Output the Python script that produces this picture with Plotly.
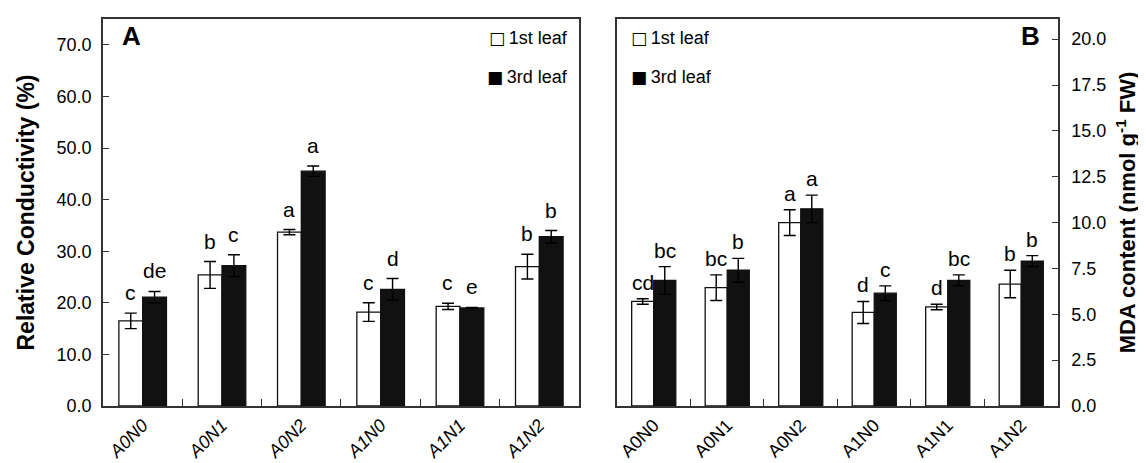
import plotly.graph_objects as go

categories = ["A0N0", "A0N1", "A0N2", "A1N0", "A1N1", "A1N2"]

# Panel A: Relative conductivity (%)
rc_1st = [16.5, 25.4, 33.7, 18.2, 19.3, 27.0]
rc_1st_err = [1.5, 2.6, 0.5, 1.8, 0.6, 2.4]
rc_3rd = [21.1, 27.2, 45.5, 22.6, 19.0, 32.8]
rc_3rd_err = [1.1, 2.1, 1.0, 2.1, 0.1, 1.2]
rc_1st_letters = ["c", "b", "a", "c", "c", "b"]
rc_3rd_letters = ["de", "c", "a", "d", "e", "b"]

# Panel B: MDA content (nmol g-1 FW)
mda_1st = [5.7, 6.45, 10.0, 5.1, 5.4, 6.65]
mda_1st_err = [0.15, 0.7, 0.7, 0.6, 0.15, 0.75]
mda_3rd = [6.85, 7.4, 10.75, 6.15, 6.85, 7.9]
mda_3rd_err = [0.75, 0.65, 0.75, 0.4, 0.3, 0.3]
mda_1st_letters = ["cd", "bc", "a", "d", "d", "b"]
mda_3rd_letters = ["bc", "b", "a", "c", "bc", "b"]

rc_ticks = [0, 10, 20, 30, 40, 50, 60, 70]
mda_ticks = [0, 2.5, 5, 7.5, 10, 12.5, 15, 17.5, 20]

FONT = "Liberation Sans, Arial, Helvetica, sans-serif"
NARROW = "Liberation Sans Narrow, Arial Narrow, Liberation Sans, Arial, sans-serif"
DARK = "#111111"
LINE = "#333333"

fig = go.Figure()

def add_pair(xa, ya, v1, e1, v3, e3):
    fig.add_trace(go.Bar(
        x=categories, y=v1, xaxis=xa, yaxis=ya, showlegend=False,
        marker=dict(color="white", line=dict(color=DARK, width=1.3)),
        error_y=dict(type="data", array=e1, color="black", thickness=1.4, width=6),
    ))
    fig.add_trace(go.Bar(
        x=categories, y=v3, xaxis=xa, yaxis=ya, showlegend=False,
        marker=dict(color=DARK, line=dict(color=DARK, width=1.3)),
        error_y=dict(type="data", array=e3, color="black", thickness=1.4, width=6),
    ))

add_pair("x", "y", rc_1st, rc_1st_err, rc_3rd, rc_3rd_err)
add_pair("x2", "y2", mda_1st, mda_1st_err, mda_3rd, mda_3rd_err)

annotations = []

def add_letters(xref, yref, vals, errs, letters, shift, yshift):
    for c, v, e, t in zip(categories, vals, errs, letters):
        annotations.append(dict(
            x=c, y=v + e, xref=xref, yref=yref, text=t, showarrow=False,
            xshift=shift, yshift=yshift, yanchor="bottom",
            font=dict(family=NARROW, size=21, color="black"),
        ))

add_letters("x", "y", rc_1st, rc_1st_err, rc_1st_letters, -12, 7)
add_letters("x", "y", rc_3rd, rc_3rd_err, rc_3rd_letters, 12, 7)
add_letters("x2", "y2", mda_1st, mda_1st_err, mda_1st_letters, -11, 3)
add_letters("x2", "y2", mda_3rd, mda_3rd_err, mda_3rd_letters, 11, 3)

# panel labels
annotations.append(dict(x=0.018, y=0.955, xref="paper", yref="paper", text="<b>A</b>",
                        showarrow=False, xanchor="left", yanchor="middle",
                        font=dict(family=FONT, size=26, color="black")))
annotations.append(dict(x=0.983, y=0.955, xref="paper", yref="paper", text="<b>B</b>",
                        showarrow=False, xanchor="right", yanchor="middle",
                        font=dict(family=FONT, size=26, color="black")))

# legends
leg_font = dict(family=FONT, size=18, color="black")
sq_open = '<span style="font-family:DejaVu Sans;font-size:17px">\u25a1</span>\u2009'
sq_fill = '<span style="font-family:DejaVu Sans;font-size:17px">\u25a0</span>\u2009'
for xa, xanchor in [(0.4984 - 0.009, "right"), (0.551, "left")]:
    annotations.append(dict(x=xa, y=0.952, xref="paper", yref="paper",
                            text=sq_open + "1st leaf", showarrow=False,
                            xanchor=xanchor, yanchor="middle", font=leg_font))
    annotations.append(dict(x=xa, y=0.85, xref="paper", yref="paper",
                            text=sq_fill + "3rd leaf", showarrow=False,
                            xanchor=xanchor, yanchor="middle", font=leg_font))

axis_common = dict(showline=True, linecolor=LINE, linewidth=1.5, mirror=True,
                   showgrid=False, zeroline=False)

fig.update_layout(
    width=1146, height=463,
    margin=dict(l=95, r=96, t=9, b=62),
    paper_bgcolor="white", plot_bgcolor="white",
    barmode="group", bargap=0.4, bargroupgap=0,
    showlegend=False,
    annotations=annotations,
    font=dict(family=FONT, color="black"),
    xaxis=dict(domain=[0, 0.4984], anchor="y", ticks="inside", ticklen=7,
               tickcolor=LINE, tickson="boundaries", tickangle=-45,
               tickfont=dict(family=FONT, size=18, style="italic"), **axis_common),
    yaxis=dict(range=[0, 75], tickvals=rc_ticks, tickformat=".1f", ticks="inside",
               ticklen=6, tickcolor=LINE, tickfont=dict(family=FONT, size=18),
               ticklabelstandoff=6,
               title=dict(text="<b>Relative Conductivity (%)</b>", standoff=16,
                          font=dict(family=FONT, size=23)),
               anchor="x", **axis_common),
    xaxis2=dict(domain=[0.5382, 1], anchor="y2", ticks="inside", ticklen=7,
                tickcolor=LINE, tickson="boundaries", tickangle=-45,
                tickfont=dict(family=FONT, size=18), **axis_common),
    yaxis2=dict(range=[0, 21.1], tickvals=mda_ticks, tickformat=".1f", ticks="inside",
                ticklen=6, tickcolor=LINE, side="right", anchor="x2",
                tickfont=dict(family=FONT, size=18), ticklabelstandoff=8,
                title=dict(text="<b>MDA content (nmol g<sup>-1</sup> FW)</b>", standoff=14,
                           font=dict(family=FONT, size=22)),
                **axis_common),
)

fig.write_html("out.html")
